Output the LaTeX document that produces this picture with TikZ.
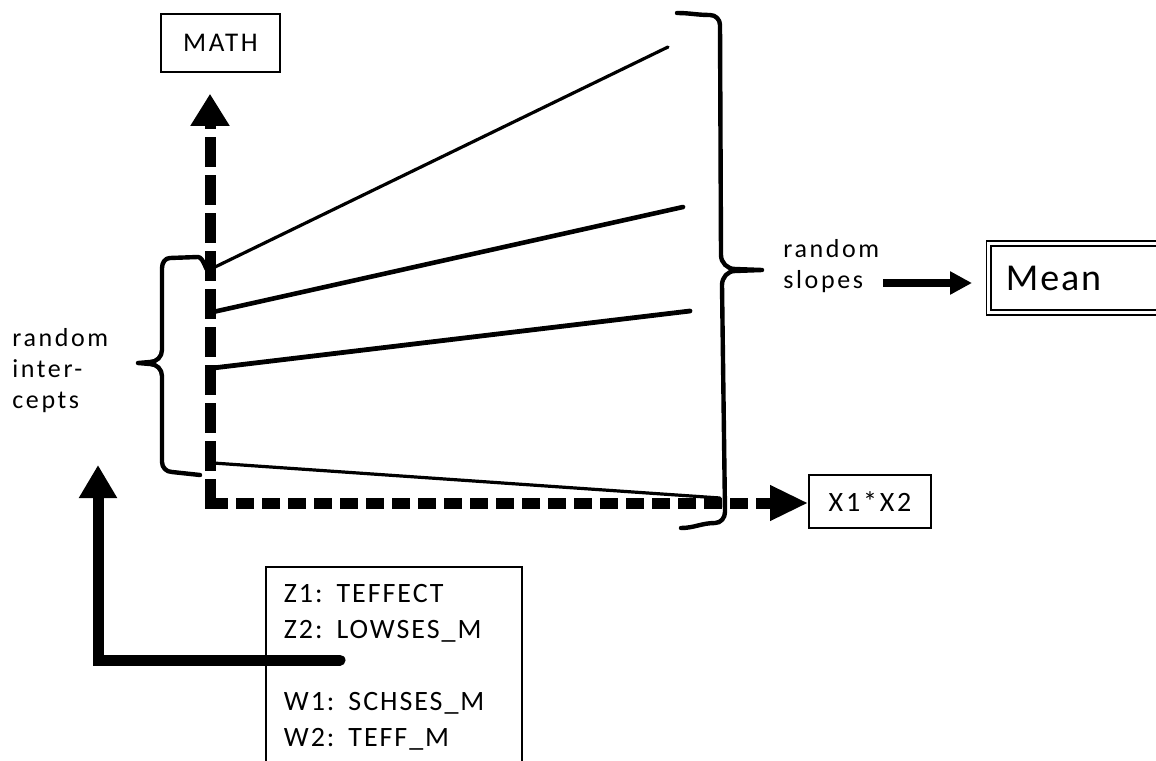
\documentclass[tikz,border=0pt]{standalone}
\usepackage{fontspec}
\setmainfont{Carlito}[LetterSpace=10]
\usetikzlibrary{arrows.meta}

\begin{document}
\begin{tikzpicture}[x=0.5pt, y=-0.5pt,
    box/.style={draw, line width=0.8pt, inner sep=0pt},
    labeltext/.style={font=\fontsize{13}{15.5}\selectfont, align=left, inner sep=0pt},
    axisline/.style={line width=5.5pt},
    slopeline/.style={line width=#1, line cap=round},
    bracket/.style={line width=2.2pt, line cap=round, line join=round}]
    \clip (0,0) rectangle (1156,760);

    \node (math) at (220.5,43) [box, minimum width=59.5pt, minimum height=29pt, font=\fontsize{13.5}{15}\selectfont] {MATH};
    \node (x1x2) at (870,501.5) [box, minimum width=61pt, minimum height=26.5pt, font=\fontsize{14}{16}\selectfont] {X1*X2};
    \node (mean) at (988,278) [anchor=west, draw, line width=0.9pt, double, double distance=1.5pt, minimum height=34.5pt, text width=80pt, inner xsep=8.5pt, font=\fontsize{19}{22}\selectfont\addfontfeatures{LetterSpace=5}] {Mean};
    \node (zbox) at (265,566) [anchor=north west, draw, line width=0.9pt, align=left, text width=110pt, inner xsep=9pt, inner ysep=8.5pt, text depth=95pt, font=\fontsize{14}{18}\selectfont\addfontfeatures{LetterSpace=7}] {Z1: TEFFECT\\Z2: LOWSES\_M\\[18pt]W1: SCHSES\_M\\W2: TEFF\_M};

    \node (intercepts) at (12,371) [anchor=west, labeltext] {random\\inter-\\cepts};
    \node (slopes) at (783,266) [anchor=west, labeltext] {random\\slopes};

    \coordinate (origin) at (210,503);
    \draw[axisline, dash pattern=on 15pt off 4pt, -{Triangle[length=16pt,width=18.5pt]}, shorten >=10.5pt] ([yshift=-2.75pt]origin) -- (origin |- math.south);
    \draw[axisline, dash pattern=on 9pt off 4pt, -{Triangle[length=19pt,width=16.5pt]}] (origin) -- (origin -| x1x2.west);

    \draw[slopeline=1.6pt] (213,268) -- (668,47);
    \draw[slopeline=2.3pt] (213,312) -- (683,207);
    \draw[slopeline=2.4pt] (213,368) -- (690,311);
    \draw[slopeline=1.6pt] (213,463) -- (720,498);

    \draw[bracket] (207,268) to[out=-90,in=0] (198,257) -- (170,258) to[out=180,in=90] (162,268) -- (162,350) to[out=-90,in=0] (150,362) -- (138,363) -- (150,364) to[out=0,in=90] (162,376) -- (162,462) to[out=-90,in=180] (172,472) -- (200,475);
    \draw[bracket] (677,13) to[out=0,in=180] (710,15) to[out=0,in=90] (720,25) -- (721,255) to[out=-90,in=180] (735,269) -- (762,270) -- (735,271) to[out=180,in=90] (722,285) -- (725,512) to[out=-90,in=0] (715,523) to[out=180,in=0] (681,528);

    \coordinate (zstart) at (340,660);
    \coordinate (inttip) at (98,465);
    \draw[axisline, line cap=round, -{Triangle[length=16.5pt,width=18pt]}] (zstart) -| (inttip);

    \coordinate (sarrow) at (883,283);
    \draw[line width=4pt, -{Triangle[length=11pt,width=11pt]}, shorten >=8pt] (sarrow) -- (sarrow -| mean.west);
\end{tikzpicture}
\end{document}
